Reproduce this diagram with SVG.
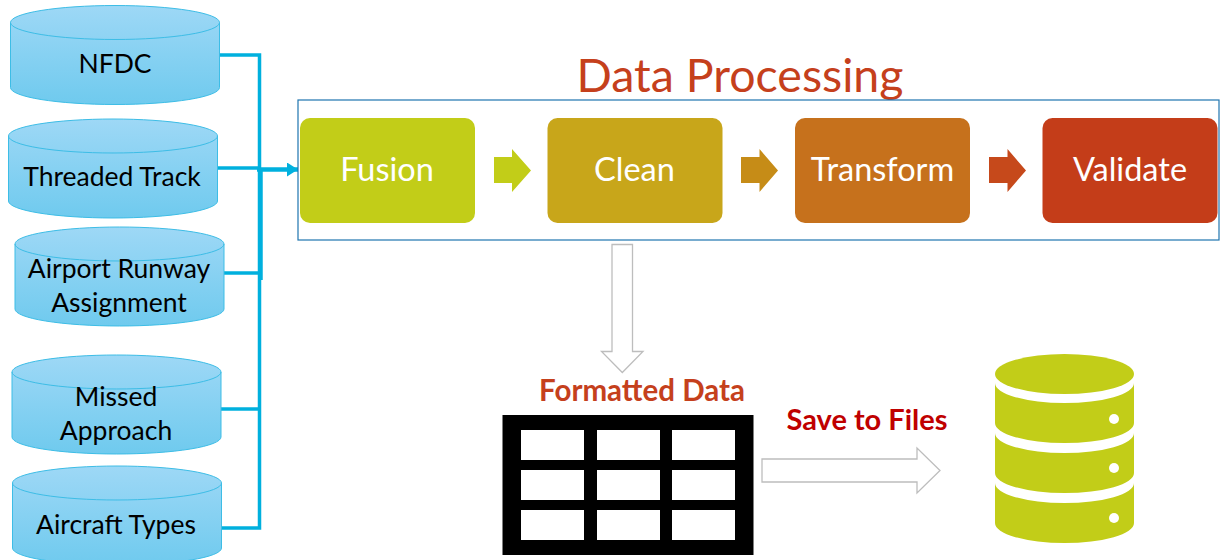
<svg xmlns="http://www.w3.org/2000/svg" width="1220" height="560" viewBox="0 0 1220 560">
<defs>
<linearGradient id="cyl" x1="0" y1="0" x2="0" y2="1"><stop offset="0" stop-color="#9ed8f6"/><stop offset="1" stop-color="#6fcaee"/></linearGradient>
<symbol id="cylinder" viewBox="0 0 209 99" width="209" height="99" overflow="visible">
<path class="cy" d="M0 17A104.500 17 0 0 1 209 17V82A104.500 17 0 0 1 0 82Z"/>
<path class="cy2" d="M0 17A104.500 17 0 0 0 209 17"/>
</symbol>
<marker id="head" markerUnits="userSpaceOnUse" markerWidth="12" markerHeight="14" refX="11" refY="7" orient="auto"><path d="M0 0L11 7L0 14Z" fill="#00b0de"/></marker>
</defs>
<style>
text{font-family:"Lato","Carlito","Liberation Sans",sans-serif;text-anchor:middle}
.cy{fill:url(#cyl);stroke:#3dbde6;stroke-width:1}
.cy2{fill:none;stroke:#3dbde6;stroke-width:1}
.cl{font-size:26.500px;fill:#000}
.bl{font-size:32.500px;fill:#fff}
.con{fill:none;stroke:#00b0de;stroke-width:3.500}
.ga{fill:#fff;stroke:#bdbdbd;stroke-width:1.300}
</style>
<rect width="1220" height="560" fill="#fff"/>
<g id="connectors">
<path class="con" d="M219 55H259.500V528H221"/>
<path class="con" d="M224 273H260"/>
<path class="con" d="M220 409H260"/>
<path class="con" d="M217 168H258"/>
<path class="con" style="stroke-width:4.500" d="M257 169.500H298" marker-end="url(#head)"/>
<path class="con" d="M261 170V280"/>
</g>
<g id="nfdc"><use href="#cylinder" x="10.500" y="5.500"/><text class="cl" x="115" y="73">NFDC</text></g>
<g id="threaded-track"><use href="#cylinder" x="8.500" y="119"/><text class="cl" x="112" y="186">Threaded Track</text></g>
<g id="airport-runway"><use href="#cylinder" x="15" y="227"/><text class="cl" x="119" y="278">Airport Runway</text><text class="cl" x="119" y="312">Assignment</text></g>
<g id="missed-approach"><use href="#cylinder" x="12" y="355"/><text class="cl" x="116" y="406">Missed</text><text class="cl" x="116" y="440">Approach</text></g>
<g id="aircraft-types"><use href="#cylinder" x="12.500" y="466"/><text class="cl" x="116" y="534">Aircraft Types</text></g>
<g id="data-processing"><text x="740" y="92" font-size="46.500" fill="#c5401c">Data Processing</text><rect x="298" y="100" width="921" height="140" fill="none" stroke="#1f75b0" stroke-width="1.200"/></g>
<g id="fusion"><rect x="300" y="118" width="175" height="105" rx="10" fill="#c2cd18"/><text class="bl" x="387" y="181">Fusion</text></g>
<g id="a1"><path d="M494 157H512V149L531 170.500L512 192V183H494Z" fill="#c2cd18"/></g>
<g id="clean"><rect x="547.500" y="118" width="175" height="105" rx="10" fill="#c8a61a"/><text class="bl" x="634.500" y="181">Clean</text></g>
<g id="a2"><path d="M741 157H759.500V149L778 170.500L759.500 192V183H741Z" fill="#c68c17"/></g>
<g id="transform"><rect x="795" y="118" width="175" height="105" rx="10" fill="#c6711c"/><text class="bl" x="882.500" y="181">Transform</text></g>
<g id="a3"><path d="M989 157H1007.500V149L1026 170.500L1007.500 192V183H989Z" fill="#c6491b"/></g>
<g id="validate"><rect x="1042.500" y="118" width="175" height="105" rx="10" fill="#c43d19"/><text class="bl" x="1130" y="181">Validate</text></g>
<g id="down-arrow"><path class="ga" d="M612 244.500H632.500V351.500H643L622.300 372.500L601.500 351.500H612Z"/></g>
<g id="formatted-data"><text x="642" y="401" font-size="29.500" font-weight="700" fill="#c5401c">Formatted Data</text>
<rect x="502.500" y="415" width="251" height="140" fill="#000"/>
<g fill="#fff"><rect x="521" y="430" width="63" height="30"/><rect x="597" y="430" width="63" height="30"/><rect x="672" y="430" width="63" height="30"/><rect x="521" y="470" width="63" height="30"/><rect x="597" y="470" width="63" height="30"/><rect x="672" y="470" width="63" height="30"/><rect x="521" y="510" width="63" height="30"/><rect x="597" y="510" width="63" height="30"/><rect x="672" y="510" width="63" height="30"/></g></g>
<g id="save-to-files"><text x="867" y="430" font-size="29" font-weight="700" fill="#c00000">Save to Files</text><path class="ga" d="M762 459H917V448L940 470.500L917 493V482H762Z"/></g>
<g id="database" fill="#c2cd18"><ellipse cx="1064.500" cy="374" rx="69.500" ry="20"/>
<path d="M995 383A69.500 20 0 0 0 1134 383V423A69.500 20 0 0 1 995 423Z"/>
<path d="M995 433A69.500 20 0 0 0 1134 433V473A69.500 20 0 0 1 995 473Z"/>
<path d="M995 483A69.500 20 0 0 0 1134 483V523A69.500 20 0 0 1 995 523Z"/>
<g fill="#fff"><circle cx="1114" cy="419" r="5"/><circle cx="1114" cy="468" r="5"/><circle cx="1114" cy="518" r="5"/></g></g>
</svg>
